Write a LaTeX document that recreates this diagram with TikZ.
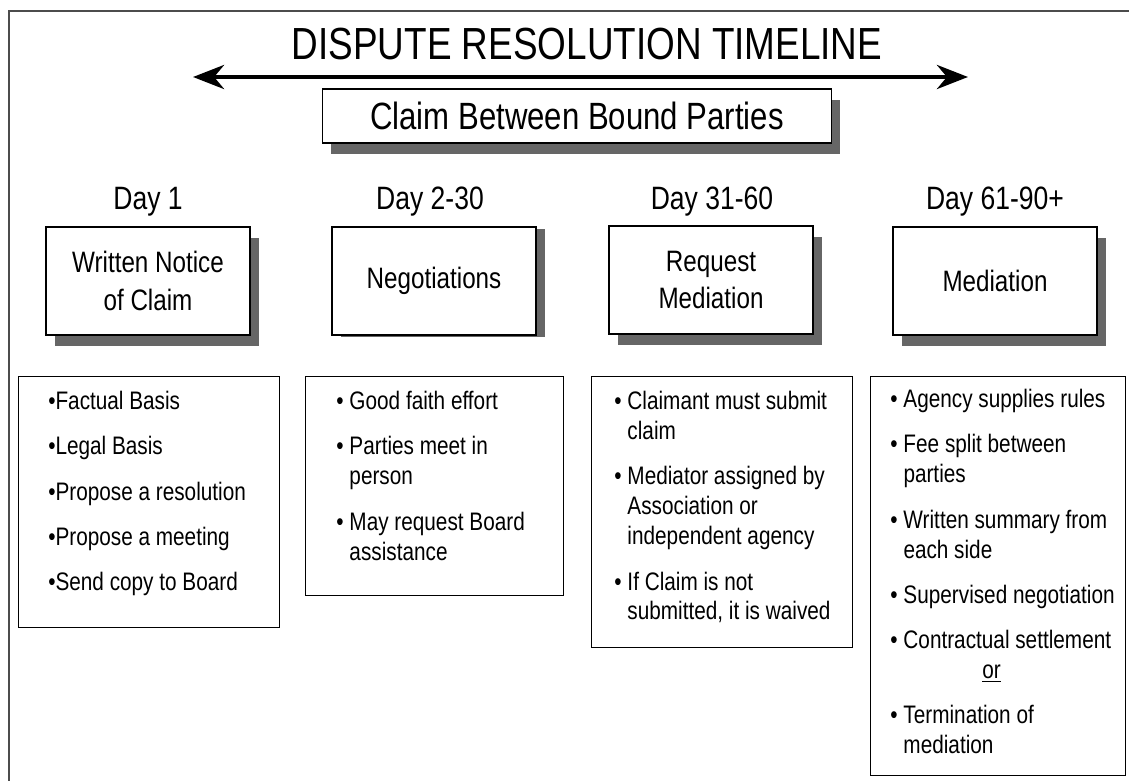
\documentclass[tikz,border=0pt]{standalone}
\usepackage{fontspec}
\setmainfont{Liberation Sans}[FakeStretch=0.82]
\usetikzlibrary{arrows.meta,shadows}
\newcommand{\bul}{\makebox[0.33cm][l]{\textbullet}}
\newcommand{\ind}{\hspace*{0.33cm}}

\begin{document}
\begin{tikzpicture}[x=0.025cm,y=-0.025cm,
	hbox/.style={draw=black,line width=0.9pt,fill=white,minimum width=5.1cm,minimum height=2.7cm,align=center,font=\fontsize{21}{27}\selectfont},
	sh/.style={drop shadow={shadow xshift=0.22cm,shadow yshift=-0.28cm,fill=black!60,opacity=1}},
	lbox/.style={draw=black,line width=0.9pt,anchor=north west,inner sep=0pt},
	ltext/.style={anchor=north west,align=left,inner sep=0pt,font=\fontsize{18}{21.3}\selectfont},
	day/.style={font=\fontsize{23}{27}\selectfont}]
	\useasboundingbox (0,0) rectangle (1129,781);
	\draw[black!70,line width=1pt] (9,781) -- (9,11) -- (1129,11);
	\node[font=\fontsize{32}{36}\selectfont] (T) at (587,44) {DISPUTE RESOLUTION TIMELINE};
	\coordinate (A1) at (193,77);
	\coordinate (A2) at (968,77);
	\draw[line width=3.5pt,{Stealth[length=22pt,width=17pt,inset=7pt]}-{Stealth[length=22pt,width=17pt,inset=7pt]}] (A1) -- (A2);
	\node[hbox,sh,minimum width=12.725cm,minimum height=1.35cm,font=\fontsize{27}{30}\selectfont] (C) at (577,116) {Claim Between Bound Parties};
	\node[day] (D1) at (148,202) {Day 1};
	\node[day] (D2) at (430,202) {Day 2-30};
	\node[day] (D3) at (712,202) {Day 31-60};
	\node[day] (D4) at (995,202) {Day 61-90+};
	\node[hbox,sh] (H1) at (148,281) {Written Notice\\of Claim};
	\node[hbox,drop shadow={shadow xshift=0.22cm,shadow yshift=-0.05cm,fill=black!60,opacity=1}] (H2) at (434,281) {Negotiations};
	\node[hbox,sh] (H3) at (711,280) {Request\\Mediation};
	\node[hbox,sh] (H4) at (995,281) {Mediation};
	\node[lbox,minimum width=6.525cm,minimum height=6.275cm] (L1) at (18,376) {};
	\node[lbox,minimum width=6.45cm,minimum height=5.475cm] (L2) at (305,376) {};
	\node[lbox,minimum width=6.525cm,minimum height=6.775cm] (L3) at (591,376) {};
	\node[lbox,minimum width=6.375cm,minimum height=9.975cm] (L4) at (870,376) {};
	\node[ltext] (B1) at (48,391) {\textbullet Factual Basis\\[10.9pt]
		\textbullet Legal Basis\\[10.9pt]
		\textbullet Propose a resolution\\[10.9pt]
		\textbullet Propose a meeting\\[10.9pt]
		\textbullet Send copy to Board};
	\node[ltext] (B2) at (336,391) {\bul Good faith effort\\[10.9pt]
		\bul Parties meet in\\\ind person\\[10.9pt]
		\bul May request Board\\\ind assistance};
	\node[ltext] (B3) at (614,391) {\bul Claimant must submit\\\ind claim\\[10.9pt]
		\bul Mediator assigned by\\\ind Association or\\\ind independent agency\\[10.9pt]
		\bul If Claim is not\\\ind submitted, it is waived};
	\node[ltext] (B4) at (890,389) {\bul Agency supplies rules\\[10.9pt]
		\bul Fee split between\\\ind parties\\[10.9pt]
		\bul Written summary from\\\ind each side\\[10.9pt]
		\bul Supervised negotiation\\[10.9pt]
		\bul Contractual settlement\\\hspace*{2.3cm}\underline{or}\\[10.9pt]
		\bul Termination of\\\ind mediation};
\end{tikzpicture}
\end{document}
